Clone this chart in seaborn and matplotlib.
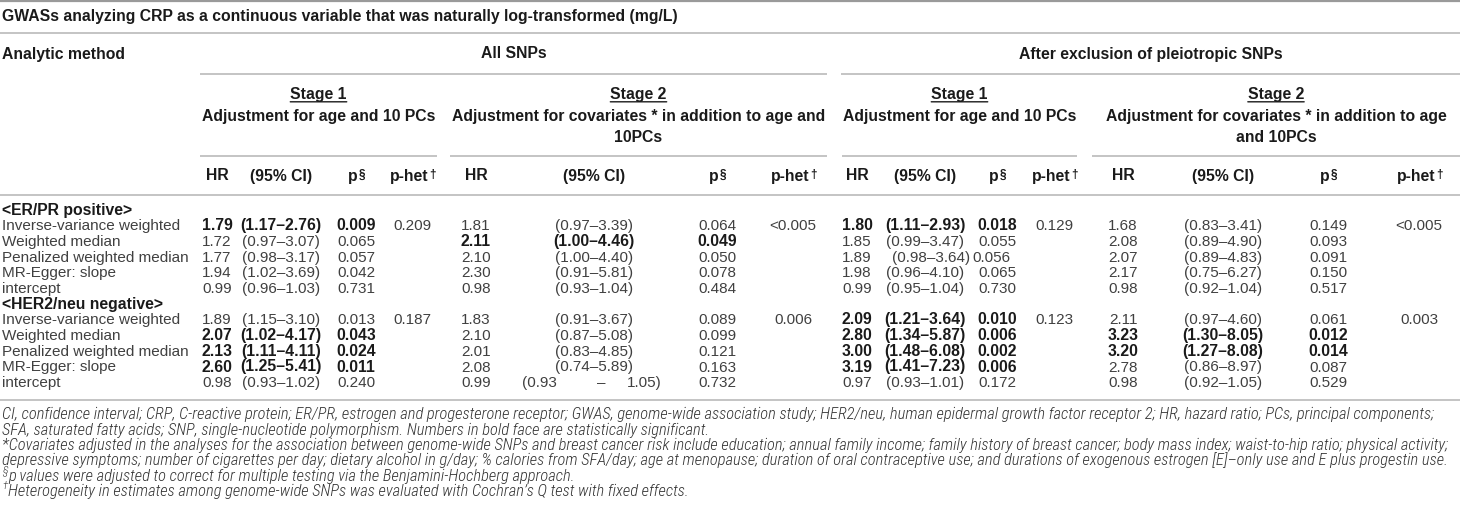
import numpy as np
import pandas as pd
import matplotlib.pyplot as plt
import seaborn as sns

# --- table content ---
title = 'GWASs analyzing CRP as a continuous variable that was naturally log-transformed (mg/L)'
row_header = 'Analytic method'
groups = ['All SNPs', 'After exclusion of pleiotropic SNPs']
stages = ['Stage 1', 'Stage 2', 'Stage 1', 'Stage 2']
stage_notes = [['Adjustment for age and 10 PCs'],
               ['Adjustment for covariates * in addition to age and', '10PCs'],
               ['Adjustment for age and 10 PCs'],
               ['Adjustment for covariates * in addition to age', 'and 10PCs']]
col_names = ['HR', '(95% CI)', 'p', 'p-het']
col_marks = ['', '', '§', '†']
subgroups = ['<ER/PR positive>', '<HER2/neu negative>']
methods = ['Inverse-variance weighted', 'Weighted median', 'Penalized weighted median',
           'MR-Egger: slope', 'intercept']

# All SNPs, stage 1
hr_all1 = ['1.79', '1.72', '1.77', '1.94', '0.99', '1.89', '2.07', '2.13', '2.60', '0.98']
ci_all1 = ['(1.17–2.76)', '(0.97–3.07)', '(0.98–3.17)', '(1.02–3.69)', '(0.96–1.03)',
           '(1.15–3.10)', '(1.02–4.17)', '(1.11–4.11)', '(1.25–5.41)', '(0.93–1.02)']
p_all1 = ['0.009', '0.065', '0.057', '0.042', '0.731', '0.013', '0.043', '0.024', '0.011', '0.240']
phet_all1 = ['0.209', '0.187']
bold_all1 = [1, 0, 0, 0, 0, 0, 1, 1, 1, 0]

# All SNPs, stage 2
hr_all2 = ['1.81', '2.11', '2.10', '2.30', '0.98', '1.83', '2.10', '2.01', '2.08', '0.99']
ci_all2 = ['(0.97–3.39)', '(1.00–4.46)', '(1.00–4.40)', '(0.91–5.81)', '(0.93–1.04)',
           '(0.91–3.67)', '(0.87–5.08)', '(0.83–4.85)', '(0.74–5.89)', '(0.93 – 1.05)']
p_all2 = ['0.064', '0.049', '0.050', '0.078', '0.484', '0.089', '0.099', '0.121', '0.163', '0.732']
phet_all2 = ['<0.005', '0.006']
bold_all2 = [0, 1, 0, 0, 0, 0, 0, 0, 0, 0]

# after exclusion, stage 1
hr_exc1 = ['1.80', '1.85', '1.89', '1.98', '0.99', '2.09', '2.80', '3.00', '3.19', '0.97']
ci_exc1 = ['(1.11–2.93)', '(0.99–3.47)', '(0.98–3.64)', '(0.96–4.10)', '(0.95–1.04)',
           '(1.21–3.64)', '(1.34–5.87)', '(1.48–6.08)', '(1.41–7.23)', '(0.93–1.01)']
p_exc1 = ['0.018', '0.055', '0.056', '0.065', '0.730', '0.010', '0.006', '0.002', '0.006', '0.172']
phet_exc1 = ['0.129', '0.123']
bold_exc1 = [1, 0, 0, 0, 0, 1, 1, 1, 1, 0]

# after exclusion, stage 2
hr_exc2 = ['1.68', '2.08', '2.07', '2.17', '0.98', '2.11', '3.23', '3.20', '2.78', '0.98']
ci_exc2 = ['(0.83–3.41)', '(0.89–4.90)', '(0.89–4.83)', '(0.75–6.27)', '(0.92–1.04)',
           '(0.97–4.60)', '(1.30–8.05)', '(1.27–8.08)', '(0.86–8.97)', '(0.92–1.05)']
p_exc2 = ['0.149', '0.093', '0.091', '0.150', '0.517', '0.061', '0.012', '0.014', '0.087', '0.529']
phet_exc2 = ['<0.005', '0.003']
bold_exc2 = [0, 0, 0, 0, 0, 0, 1, 1, 0, 0]

footnotes = [
    ('', 'CI, confidence interval; CRP, C-reactive protein; ER/PR, estrogen and progesterone receptor; '
         'GWAS, genome-wide association study; HER2/neu, human epidermal growth factor receptor 2; '
         'HR, hazard ratio; PCs, principal components;'),
    ('', 'SFA, saturated fatty acids; SNP, single-nucleotide polymorphism. Numbers in bold face are '
         'statistically significant.'),
    ('', '*Covariates adjusted in the analyses for the association between genome-wide SNPs and breast '
         'cancer risk include education; annual family income; family history of breast cancer; body mass '
         'index; waist-to-hip ratio; physical activity;'),
    ('', 'depressive symptoms; number of cigarettes per day; dietary alcohol in g/day; % calories from '
         'SFA/day; age at menopause; duration of oral contraceptive use; and durations of exogenous '
         'estrogen [E]–only use and E plus progestin use.'),
    ('§', 'p values were adjusted to correct for multiple testing via the Benjamini-Hochberg approach.'),
    ('†', 'Heterogeneity in estimates among genome-wide SNPs was evaluated with Cochran’s Q test with fixed effects.'),
]

blocks = [
    dict(hr=hr_all1, ci=ci_all1, p=p_all1, phet=phet_all1, bold=bold_all1),
    dict(hr=hr_all2, ci=ci_all2, p=p_all2, phet=phet_all2, bold=bold_all2),
    dict(hr=hr_exc1, ci=ci_exc1, p=p_exc1, phet=phet_exc1, bold=bold_exc1),
    dict(hr=hr_exc2, ci=ci_exc2, p=p_exc2, phet=phet_exc2, bold=bold_exc2),
]

# --- layout (pixels) ---
W, H = 1460, 531
group_spans = [(200, 827), (841, 1460)]
stage_spans = [(200, 437), (450, 827), (842, 1077), (1092, 1460)]
col_x = [[217, 281, 356, 412], [476, 594, 717, 793],
         [857, 925, 997, 1054], [1123, 1223, 1328, 1419]]
row_y = 209 + 15.7 * np.arange(12)
fn_y = 414 + 15.3 * np.arange(len(footnotes))
nudge = {(2, 2, 1): 6, (2, 2, 2): -6}   # the slightly shifted cell in the original
BASE = 5.5   # centre -> baseline

sns.set_theme(style='white')
plt.rcParams['font.family'] = ['Liberation Sans', 'DejaVu Sans']

REG = dict(fontsize=11, color='#404040')
BOLD = dict(fontsize=11.3, color='#1a1a1a', fontweight='bold')
LINE = '#b4b4b4'

fig = plt.figure(figsize=(W / 100, H / 100), dpi=100)
ax = fig.add_axes([0, 0, 1, 1])
ax.set_xlim(0, W)
ax.set_ylim(H, 0)
ax.axis('off')


def fitted_size(s, target, **kw):
    probe = ax.text(0, 0, s, fontsize=10, **kw)
    fig.canvas.draw()
    w = probe.get_window_extent().width
    probe.remove()
    return 10 * target / w


def hline(y, x0=0, x1=W, lw=1.1, color=LINE):
    ax.plot([x0, x1], [y, y], color=color, lw=lw, solid_capstyle='butt')


def txt(x, y, s, ha='center', **kw):
    return ax.text(x, y + BASE, s, ha=ha, va='baseline', **kw)


# rules
hline(1, lw=1.6, color='#9a9a9a')
hline(33)
for x0, x1 in group_spans:
    hline(74, x0, x1)
for x0, x1 in stage_spans:
    hline(156, x0, x1)
hline(195)
hline(400)

# header
txt(2, 15, title, ha='left', **BOLD)
txt(2, 53, row_header, ha='left', **BOLD)
for (x0, x1), g in zip(group_spans, groups):
    txt((x0 + x1) / 2, 53, g, **BOLD)
for (x0, x1), st, notes in zip(stage_spans, stages, stage_notes):
    xc = (x0 + x1) / 2
    t = txt(xc, 93, st, **BOLD)
    ax.annotate('', xy=(0, -0.02), xycoords=t, xytext=(1, -0.02), textcoords=t,
                arrowprops=dict(arrowstyle='-', lw=1.0, color='#1a1a1a', shrinkA=0, shrinkB=0))
    for k, line in enumerate(notes):
        txt(xc, 115 + 22 * k, line, **BOLD)
for b in range(4):
    for c, (name, mark) in enumerate(zip(col_names, col_marks)):
        shift = -3 if mark else 0
        t = txt(col_x[b][c] + shift, 175, name, **BOLD)
        if mark:
            ax.annotate(mark, xy=(1, 0.95), xycoords=t, xytext=(0.4, 0), textcoords='offset points',
                        ha='left', va='top', fontsize=8.5, color='#1a1a1a', fontweight='bold')

# body
for g, sub in enumerate(subgroups):
    txt(2, row_y[g * 6], sub, ha='left', **BOLD)
    for m, meth in enumerate(methods):
        txt(2, row_y[g * 6 + 1 + m], meth, ha='left', **REG)

for b, blk in enumerate(blocks):
    for g in range(2):
        for m in range(5):
            i = g * 5 + m
            y = row_y[g * 6 + 1 + m]
            style = BOLD if blk['bold'][i] else REG
            for c, key in enumerate(['hr', 'ci', 'p']):
                s = blk[key][i]
                x = col_x[b][c] + nudge.get((b, i, c), 0)
                if ' – ' in s:
                    left, right = s.split(' – ')
                    txt(x - 72, y, left, ha='left', **style)
                    txt(x + 7, y, '–', **style)
                    txt(x + 68, y, right, ha='right', **style)
                else:
                    txt(x, y, s, **style)
        txt(col_x[b][3], row_y[g * 6 + 1], blk['phet'][g], **REG)

# footnotes: light condensed italic, fitted to the table width
fn_kw = dict(style='italic', color='#333333', fontweight='light',
             family=['Roboto Condensed', 'Liberation Sans Narrow', 'Liberation Sans'])
fn_size = fitted_size(footnotes[2][1], 1453, **fn_kw)

for (mark, line), y in zip(footnotes, fn_y):
    x = 2
    if mark:
        txt(x, y - 7, mark, ha='left', fontsize=fn_size * 0.65, **fn_kw)
        x = 8
    txt(x, y, line, ha='left', fontsize=fn_size, **fn_kw)

fig.savefig('out.png', dpi=100, facecolor='white')
